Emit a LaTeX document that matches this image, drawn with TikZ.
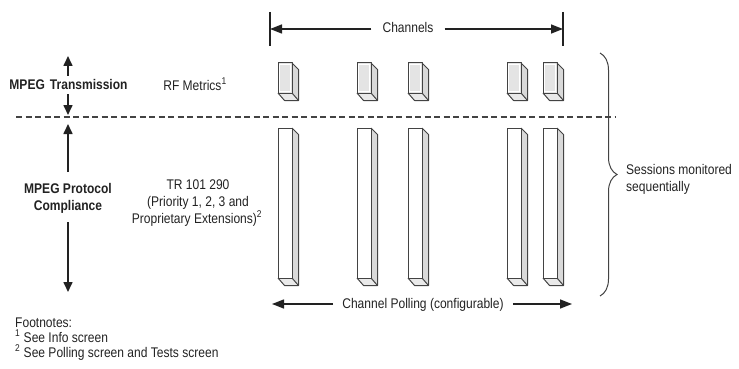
\documentclass[tikz,border=0pt]{standalone}
\usepackage{fontspec}
\setmainfont{Liberation Sans}[FakeStretch=0.86]
\usetikzlibrary{arrows.meta,decorations.pathreplacing}
\definecolor{ink}{HTML}{222222}
\definecolor{frontgray}{HTML}{E4E4E4}
\definecolor{sidegray}{HTML}{E9E9E9}
\tikzset{
  txt/.style={font=\fontsize{14}{17}\selectfont, text=ink, inner sep=0pt},
  bld/.style={font=\fontsize{14}{17}\selectfont\bfseries, text=ink, inner sep=0pt},
  varr/.style={draw=ink, line width=1.6pt, -{Triangle[length=10pt,width=9pt]}},
  harr/.style={draw=ink, line width=1.4pt, -{Triangle[length=12pt,width=9pt]}},
  tickline/.style={draw=ink, line width=1.3pt},
  boxline/.style={draw=ink!85, line width=1pt, line join=round},
}
% \chbox{x}{y}{h}{front fill}
\newcommand{\chbox}[4]{%
  \fill[sidegray!85!gray] (#1+14,#2) -- (#1+20.5,#2+6.5) -- (#1+20.5,#2+#3+7.5) -- (#1+14,#2+#3) -- cycle;
  \fill[sidegray] (#1,#2+#3) -- (#1+6.5,#2+#3+7.5) -- (#1+20.5,#2+#3+7.5) -- (#1+14,#2+#3) -- cycle;
  \fill[#4] (#1,#2) rectangle (#1+14,#2+#3);
  \draw[boxline] (#1,#2) rectangle (#1+14,#2+#3);
  \draw[boxline] (#1+14,#2) -- (#1+20.5,#2+6.5) -- (#1+20.5,#2+#3+7.5) -- (#1+6.5,#2+#3+7.5) -- (#1,#2+#3);
  \draw[boxline] (#1+14,#2+#3) -- (#1+20.5,#2+#3+7.5);
  \draw[white, line width=0.8pt] (#1+1.5,#2+1.5) rectangle (#1+12.5,#2+#3-1.5);
}
\begin{document}
\begin{tikzpicture}[x=1pt,y=-1pt]
\useasboundingbox (0,0) rectangle (739,369);

% Channels header
\coordinate (ltt) at (270,12); \coordinate (ltb) at (270,46);
\coordinate (rtt) at (563,12); \coordinate (rtb) at (563,46);
\draw[tickline] (ltt) -- (ltb);
\draw[tickline] (rtt) -- (rtb);
\coordinate (lt) at (270,29); \coordinate (rt) at (563,29);
\node[txt, anchor=base, inner xsep=11pt] (chan) at (408,33) {Channels};
\draw[harr] (chan.west |- lt) -- (lt);
\draw[harr] (chan.east |- rt) -- (rt);

% Left labels
\node[bld, anchor=base] (mt) at (68.5,89) {MPEG\hspace{5pt}Transmission};
\coordinate (mtu0) at (68,76); \coordinate (mtu1) at (68,56);
\coordinate (mtd0) at (68,94); \coordinate (mtd1) at (68,115);
\draw[varr] (mtu0) -- (mtu1);
\draw[varr] (mtd0) -- (mtd1);

\node[txt, anchor=base] (rf) at (195,90) {RF Metrics\textsuperscript{1}};

\node[bld, anchor=base] (mp1) at (68,193) {MPEG Protocol};
\node[bld, anchor=base] (mp2) at (68,210) {Compliance};
\coordinate (mpu0) at (68,172); \coordinate (mpu1) at (68,124);
\coordinate (mpd0) at (68,222); \coordinate (mpd1) at (68,292);
\draw[varr] (mpu0) -- (mpu1);
\draw[varr] (mpd0) -- (mpd1);

\node[txt, anchor=base] (tr1) at (198,189) {TR 101 290};
\node[txt, anchor=base] (tr2) at (198,206) {(Priority 1, 2, 3 and};
\node[txt, anchor=base] (tr3) at (197,223) {Proprietary Extensions)\textsuperscript{2}};

% Dashed separator
\coordinate (dl) at (16,117); \coordinate (dr) at (616,117);
\draw[draw=ink!85, line width=1.6pt, dash pattern=on 6pt off 3.5pt] (dl) -- (dr);

% Channel boxes
\foreach \bx in {278,357,408,507,543}{
  \chbox{\bx}{63}{30}{frontgray}
}
\foreach \bx in {278,357,408,507,543}{
  \shade[top color=white, bottom color=frontgray] (\bx,128) rectangle (\bx+14,278);
  \chbox{\bx}{128}{150}{white!0}
}

% Channel polling
\coordinate (pl) at (272,304); \coordinate (pr) at (572,304);
\node[txt, anchor=base, inner xsep=9pt] (poll) at (423,308) {Channel Polling (configurable)};
\draw[harr] (poll.west |- pl) -- (pl);
\draw[harr] (poll.east |- pr) -- (pr);

% Brace
\coordinate (bt) at (600,53); \coordinate (bb) at (600,296);
\draw[draw=ink!85, line width=1pt, decorate, decoration={brace, amplitude=17pt, aspect=0.5}] (bt) -- (bb);
\node[txt, anchor=base west, align=left] (ses1) at (626,174) {Sessions monitored};
\node[txt, anchor=base west] (ses2) at (626,191) {sequentially};

% Footnotes
\node[txt, anchor=base west] (fn0) at (15,327) {Footnotes:};
\node[txt, anchor=base west] (fn1) at (15,342) {\textsuperscript{1} See Info screen};
\node[txt, anchor=base west] (fn2) at (15,357) {\textsuperscript{2} See Polling screen and Tests screen};
\end{tikzpicture}
\end{document}
